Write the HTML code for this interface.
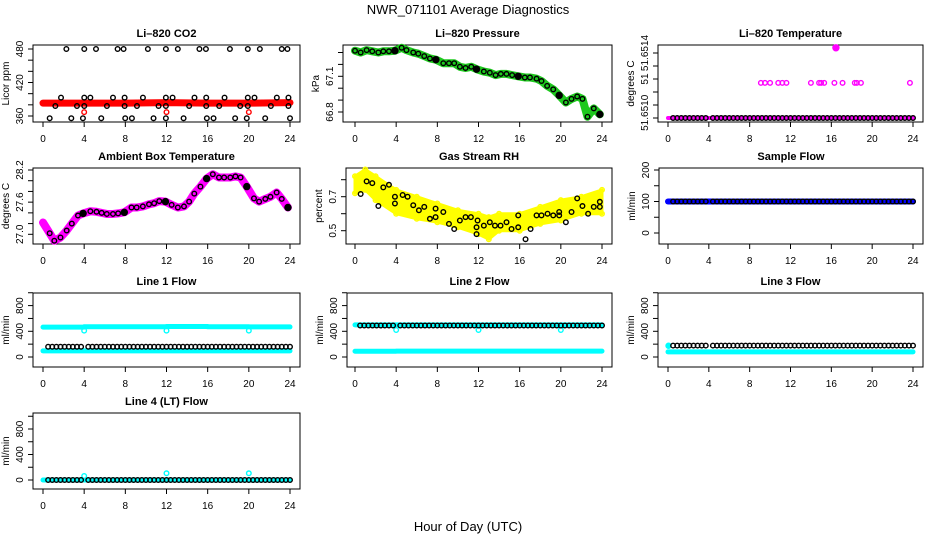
<!DOCTYPE html>
<html><head><meta charset="utf-8"><style>
body{margin:0;background:#fff}
svg{display:block;font-family:"Liberation Sans",sans-serif}
</style></head><body>
<svg id="c" width="936" height="540" viewBox="0 0 936 540">
<text x="468" y="14" text-anchor="middle" font-size="13">NWR_071101  Average Diagnostics</text>
<text x="468" y="531" text-anchor="middle" font-size="13">Hour of Day (UTC)</text>
</svg>
<script>
// ---- data ----
const xTicks = [0,4,8,12,16,20,24];
const segHours = [0,4,8,12,16,20];
// CO2
const co2RedHours = [0,4,8,12,16,20,24];
const co2RedValues = [383,383,383,384,383,383,384];
const co2RedOutHours = [4,12,20];
const co2RedOutValues = [367,367,367];
const co2BlkHours480 = [2.27,4.01,5.15,7.25,7.83,10.19,11.94,13.1,15.2,15.83,18.16,19.9,21.07,23.2,23.75];
const co2BlkHours393 = [1.75,4.01,4.6,6.8,7.93,9.71,11.94,12.59,14.72,15.86,17.64,19.9,20.55,22.72,23.85];
const co2BlkHours378 = [1.2,3.3,4.01,6.21,7.93,9.13,11.23,11.94,14.2,15.86,17.12,19.16,19.9,22.14,23.85];
const co2BlkHours356 = [0.65,2.75,3.88,5.66,7.99,8.64,10.74,11.94,13.66,15.92,16.57,18.67,19.8,21.59,24.0];
const co2Levels = [480,393,378,356];
// Pressure
const presHours = [0,0.55,1.13,1.68,2.27,2.75,3.3,3.88,4.53,5.0,5.66,6.15,6.73,7.28,7.86,8.58,9.13,9.64,10.19,10.74,11.3,11.81,12.52,13.1,13.66,14.17,14.72,15.27,15.86,16.5,17.0,17.64,18.12,18.67,19.26,19.84,20.49,21.04,21.59,22.1,22.59,23.2,23.79];
const presValues = [67.315,67.30,67.32,67.31,67.30,67.31,67.31,67.315,67.34,67.32,67.30,67.29,67.27,67.25,67.24,67.21,67.21,67.21,67.18,67.17,67.18,67.16,67.14,67.13,67.11,67.12,67.12,67.11,67.10,67.09,67.09,67.08,67.06,67.02,66.99,66.94,66.88,66.91,66.93,66.91,66.76,66.83,66.78];
// Li-820 temperature (offset from 51.6510, units of 1e-4)
const ltMidHours = [9.1,9.5,10.0,10.8,11.2,11.6,14.0,14.8,15.0,15.3,16.3,17.1,18.3,18.5,18.9,23.7];
const ltMidValues = [2.7,2.7,2.7,2.7,2.7,2.7,2.7,2.7,2.7,2.7,2.7,2.7,2.7,2.7,2.7,2.7];
const ltTopHours = [16.45];
const ltTopValues = [5.4];
const ltBaseLevel = [0,0,0,0,0,0];
// Ambient temp
const ambHours = [0,0.65,1.1,1.7,2.3,2.8,3.4,3.9,4.6,5.2,5.7,6.2,6.8,7.3,7.9,8.6,9.1,9.7,10.3,10.8,11.3,11.9,12.5,13.1,13.7,14.2,14.7,15.3,15.9,16.5,17.1,17.6,18.2,18.7,19.2,19.8,20.5,21.0,21.6,22.1,22.7,23.2,23.8];
const ambValues = [27.22,27.02,26.88,26.94,27.07,27.2,27.35,27.39,27.43,27.42,27.4,27.38,27.38,27.39,27.41,27.5,27.5,27.52,27.56,27.58,27.62,27.61,27.55,27.5,27.52,27.61,27.76,27.89,28.04,28.12,28.06,28.06,28.06,28.08,28.06,27.89,27.67,27.61,27.66,27.7,27.78,27.66,27.5];
// RH
const rhBandHours = [0,1,2,4,6,8,10,12,13,14,16,18,20,22,24];
const rhBandUpper = [0.82,0.86,0.82,0.74,0.70,0.66,0.62,0.60,0.58,0.60,0.60,0.64,0.68,0.70,0.74];
const rhBandLower = [0.72,0.74,0.68,0.60,0.57,0.55,0.52,0.48,0.45,0.50,0.50,0.54,0.56,0.60,0.60];
const rhHours = [0.55,1.13,1.68,2.27,2.75,3.3,3.88,3.88,4.63,5.11,5.66,6.21,6.73,7.28,7.83,7.83,8.58,9.13,9.64,10.19,10.74,11.26,11.81,11.91,11.81,12.52,13.1,13.6,14.14,14.72,15.21,15.86,15.86,16.57,17.06,17.64,18.12,18.71,19.26,19.84,19.84,20.49,21.04,21.59,22.1,22.65,23.2,23.79,23.79];
const rhValues = [0.716,0.79,0.78,0.645,0.755,0.77,0.70,0.66,0.71,0.70,0.65,0.62,0.64,0.57,0.63,0.58,0.61,0.54,0.51,0.56,0.58,0.58,0.52,0.56,0.48,0.53,0.55,0.53,0.53,0.55,0.51,0.52,0.59,0.45,0.51,0.59,0.59,0.60,0.59,0.59,0.61,0.55,0.61,0.69,0.645,0.60,0.64,0.64,0.67];
// Flows (per 4-hour segment levels)
const sampleBlue = [100,100,100,100,100,100];
const sampleBlack = [100,100,100,100,100,100];
const l1CyanHigh = [465,470,470,475,470,468];
const l1CyanLow = [95,95,95,95,95,95];
const l1Black = [160,160,160,160,160,160];
const l1DipHours = [4,12,20]; const l1DipValues = [410,410,410];
const l2CyanHigh = [500,500,500,500,500,500];
const l2CyanLow = [90,92,92,92,92,92];
const l2Black = [490,490,490,490,490,490];
const l2DipHours = [4,12,20]; const l2DipValues = [420,420,420];
const l3CyanHigh = [175,175,175,175,175,175];
const l3CyanLow = [80,80,80,80,80,80];
const l3Black = [178,178,178,178,178,178];
const l4Cyan = [0,0,0,0,0,0];
const l4Black = [0,0,0,0,0,0];
const l4BumpHours = [4,12,20]; const l4BumpValues = [63,105,105];

// ---- drawing ----
const NS='http://www.w3.org/2000/svg';
const svg=document.getElementById('c');
function el(tag,attrs,parent,name,inter){
  const e=document.createElementNS(NS,tag);
  for(const k in attrs) e.setAttribute(k,attrs[k]);
  
  
  parent.appendChild(e); return e;
}
function panel(p){
  const g=el('g',{},svg,p.name,false);
  const sx=h=>p.x0+(h/24)*(p.x24-p.x0);
  const sy=v=>p.yp[0]+(v-p.yv[0])*(p.yp[1]-p.yp[0])/(p.yv[1]-p.yv[0]);
  el('rect',{x:p.L,y:p.T,width:p.R-p.L,height:p.B-p.T,fill:'none',stroke:'#000','stroke-width':1},g,'plot-box',false);
  const t=el('text',{x:(p.L+p.R)/2,y:p.T-8,'text-anchor':'middle','font-size':11,'font-weight':'bold'},g,'panel-title',false);
  t.textContent=p.title;
  const xa=el('g',{},g,'x-axis',false);
  el('line',{x1:p.x0,x2:p.x24,y1:p.B,y2:p.B,stroke:'#000'},xa,'x-axis-line',false);
  xTicks.forEach(h=>{
    el('line',{x1:sx(h),x2:sx(h),y1:p.B,y2:p.B+5,stroke:'#000'},xa,'x-tick',false);
    const tl=el('text',{x:sx(h),y:p.B+20,'text-anchor':'middle','font-size':10},xa,'x-tick-label',false);
    tl.textContent=h;
  });
  const ya=el('g',{},g,'y-axis',false);
  p.ticks.forEach(v=>{
    el('line',{x1:p.L-5,x2:p.L,y1:sy(v),y2:sy(v),stroke:'#000'},ya,'y-tick',false);
  });
  p.labels.forEach(([v,s])=>{
    const yy=sy(v), xx=p.L-10;
    const tl=el('text',{x:xx,y:yy,'text-anchor':'middle','font-size':10,transform:`rotate(-90 ${xx} ${yy})`},ya,'y-tick-label',false);
    tl.textContent=s;
  });
  const yx=p.L-24, yy=(p.T+p.B)/2;
  const yl=el('text',{x:yx,y:yy,'text-anchor':'middle','font-size':10,transform:`rotate(-90 ${yx} ${yy})`},g,'y-axis-title',false);
  yl.textContent=p.ylab;
  const data=el('g',{},g,'series',false);
  return {g:data,sx,sy};
}
function circ(P,h,v,col,name,r,fill){
  el('circle',{cx:P.sx(h),cy:P.sy(v),r:r||2.3,fill:fill||'none',stroke:col,'stroke-width':1.4},P.g,name,false);
}
function band(P,hours,vals,col,w,name){
  const pts=hours.map((h,i)=>P.sx(h)+','+P.sy(vals[i])).join(' ');
  el('polyline',{points:pts,fill:'none',stroke:col,'stroke-width':w,'stroke-linejoin':'round','stroke-linecap':'round'},P.g,name,false);
}
function segBand(P,levels,col,w,name,h0){
  const hs=[],vs=[];
  levels.forEach((v,i)=>{hs.push(Math.max(segHours[i],h0||0));vs.push(v);hs.push(segHours[i]+4);vs.push(v);});
  band(P,hs,vs,col,w,name);
}
function segCircles(P,levels,col,name,h0){
  levels.forEach((v,i)=>{
    for(let h=segHours[i]+(i===0?(h0||0.5):0.4);h<segHours[i]+4.01&&h<=24;h+=0.4) circ(P,h,v,col,name);
  });
}
const flowTicks=[0,200,400,600,800,1000], flowLabels=[[0,'0'],[400,'400'],[800,'800']];

// Panel 1 CO2
let P=panel({name:'panel-co2',title:'Li\u2013820 CO2',L:33,R:300,T:45,B:122,x0:43,x24:290,yv:[360,480],yp:[116,49],ticks:[360,380,400,420,440,460,480],labels:[[360,'360'],[420,'420'],[480,'480']],ylab:'Licor ppm'});
band(P,co2RedHours,co2RedValues,'#f00',7,'co2-red-band');
co2RedOutHours.forEach((h,i)=>circ(P,h,co2RedOutValues[i],'#f00','co2-red-point'));
[co2BlkHours480,co2BlkHours393,co2BlkHours378,co2BlkHours356].forEach((hs,j)=>hs.forEach(h=>circ(P,h,co2Levels[j],'#000','co2-black-point')));

// Panel 2 Pressure
P=panel({name:'panel-pressure',title:'Li\u2013820 Pressure',L:343,R:612,T:45,B:122,x0:355,x24:602,yv:[66.8,67.1],yp:[112,76.3],ticks:[66.8,66.9,67.0,67.1,67.2,67.3],labels:[[66.8,'66.8'],[67.1,'67.1']],ylab:'kPa'});
band(P,presHours,presValues,'#1ec81e',8,'pressure-green-band');
presHours.forEach((h,i)=>circ(P,h,presValues[i],'#000','pressure-point'));
[4,8,12,16,20,24].forEach(h=>{const i=presHours.findIndex(x=>x>=h-0.3); if(i>=0) circ(P,presHours[i],presValues[i],'#000','pressure-filled',3,'#000');});

// Panel 3 Li-820 temp
P=panel({name:'panel-li820-temp',title:'Li\u2013820 Temperature',L:658,R:923,T:45,B:122,x0:668,x24:913,yv:[0,5],yp:[118,53],ticks:[0,1,2,3,4,5],labels:[[0.4,'51.6510'],[3,'51'],[5,'51.6514']],ylab:'degrees C'});
segBand(P,ltBaseLevel,'#f0f',4,'li820-temp-base');
segCircles(P,ltBaseLevel,'#000','li820-temp-black-point');
ltMidHours.forEach((h,i)=>circ(P,h,ltMidValues[i],'#f0f','li820-temp-mid-point'));
ltTopHours.forEach((h,i)=>circ(P,h,ltTopValues[i],'#f0f','li820-temp-top-point',3,'#f0f'));

// Panel 4 Ambient
P=panel({name:'panel-ambient-temp',title:'Ambient Box Temperature',L:33,R:300,T:168,B:244,x0:43,x24:290,yv:[27.0,28.2],yp:[234.3,170],ticks:[27.0,27.2,27.4,27.6,27.8,28.0,28.2],labels:[[27.0,'27.0'],[27.6,'27.6'],[28.2,'28.2']],ylab:'degrees C'});
band(P,ambHours,ambValues,'#f0f',8,'ambient-magenta-band');
ambHours.forEach((h,i)=>{ if(h>0) circ(P,h,ambValues[i],'#000','ambient-point'); });
[3.9,7.9,11.9,15.9,19.8,23.8].forEach(h=>{const i=ambHours.indexOf(h); circ(P,h,ambValues[i],'#000','ambient-filled',3,'#000');});

// Panel 5 RH
P=panel({name:'panel-rh',title:'Gas Stream RH',L:346,R:612,T:168,B:244,x0:355,x24:602,yv:[0.5,0.7],yp:[230.7,196.7],ticks:[0.5,0.6,0.7,0.8],labels:[[0.5,'0.5'],[0.7,'0.7']],ylab:'percent'});
{
  const pts=rhBandHours.map((h,i)=>P.sx(h)+','+P.sy(rhBandUpper[i])).concat(rhBandHours.slice().reverse().map((h,i)=>P.sx(h)+','+P.sy(rhBandLower[rhBandHours.length-1-i]))).join(' ');
  el('polygon',{points:pts,fill:'#ffff00',stroke:'#ffff00','stroke-width':3,'stroke-linejoin':'round'},P.g,'rh-yellow-cloud',false);
  rhBandHours.forEach((h,i)=>{circ(P,h,rhBandUpper[i],'#ffff00','rh-yellow-point');circ(P,h,rhBandLower[i],'#ffff00','rh-yellow-point');});
}
rhHours.forEach((h,i)=>circ(P,h,rhValues[i],'#000','rh-point'));

// Panel 6 Sample flow
P=panel({name:'panel-sample-flow',title:'Sample Flow',L:659,R:923,T:168,B:244,x0:668,x24:913,yv:[0,200],yp:[233,170],ticks:[0,50,100,150,200],labels:[[0,'0'],[100,'100'],[200,'200']],ylab:'ml/min'});
segBand(P,sampleBlue,'#00f',6,'sample-blue-band');
segCircles(P,sampleBlack,'#000','sample-black-point');

// Panel 7 Line 1
P=panel({name:'panel-line1-flow',title:'Line 1 Flow',L:33,R:300,T:293,B:367,x0:43,x24:290,yv:[0,400],yp:[357,331.3],ticks:flowTicks,labels:flowLabels,ylab:'ml/min'});
segBand(P,l1CyanHigh,'#0ff',5,'line1-cyan-high');
segBand(P,l1CyanLow,'#0ff',5,'line1-cyan-low');
l1DipHours.forEach((h,i)=>circ(P,h,l1DipValues[i],'#0ff','line1-cyan-dip'));
segCircles(P,l1Black,'#000','line1-black-point');

// Panel 8 Line 2
P=panel({name:'panel-line2-flow',title:'Line 2 Flow',L:347,R:612,T:293,B:367,x0:355,x24:602,yv:[0,400],yp:[357,331.3],ticks:flowTicks,labels:flowLabels,ylab:'ml/min'});
segBand(P,l2CyanHigh,'#0ff',5,'line2-cyan-high');
segBand(P,l2CyanLow,'#0ff',5,'line2-cyan-low');
l2DipHours.forEach((h,i)=>circ(P,h,l2DipValues[i],'#0ff','line2-cyan-dip'));
segCircles(P,l2Black,'#000','line2-black-point');

// Panel 9 Line 3
P=panel({name:'panel-line3-flow',title:'Line 3 Flow',L:658,R:923,T:293,B:367,x0:668,x24:913,yv:[0,400],yp:[357,331.3],ticks:flowTicks,labels:flowLabels,ylab:'ml/min'});
segBand(P,l3CyanLow,'#0ff',5,'line3-cyan-low');
circ(P,0.05,l3CyanHigh[0],'#0ff','line3-cyan-start',2.5,'#0ff');
segCircles(P,l3Black,'#000','line3-black-point');

// Panel 10 Line 4
P=panel({name:'panel-line4-flow',title:'Line 4 (LT) Flow',L:33,R:300,T:413,B:489,x0:43,x24:290,yv:[0,400],yp:[480,454.5],ticks:flowTicks,labels:flowLabels,ylab:'ml/min'});
segBand(P,l4Cyan,'#0ff',5,'line4-cyan-band');
l4BumpHours.forEach((h,i)=>circ(P,h,l4BumpValues[i],'#0ff','line4-cyan-bump'));
segCircles(P,l4Black,'#000','line4-black-point');
</script>
</body></html>
